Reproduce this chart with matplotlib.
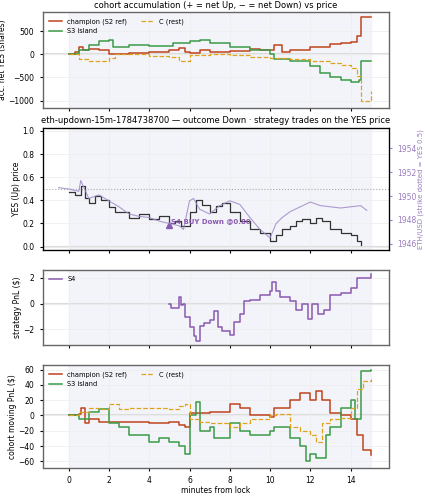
import matplotlib
matplotlib.use('Agg')
import matplotlib.pyplot as plt
import numpy as np

champColor = '#c0441e'
s3Color = '#3a9a48'
cColor = '#e0a21a'
s4Color = '#8a5ab0'

# panel 1: cohort accumulation (shares)
accChampT = [0, 0.3, 0.5, 0.7, 1.0, 1.5, 2.0, 2.3, 3, 4, 5, 5.5, 5.8, 6, 6.5, 7, 8, 9, 9.5, 10, 10.2, 10.6, 11, 12, 13, 13.5, 14, 14.3, 14.5, 15]
accChampV = [0, 50, 150, 100, 120, 80, 0, 5, 20, 50, 80, 130, 50, 30, 80, 50, 60, 120, 80, 100, 200, 50, 100, 150, 220, 250, 260, 400, 800, 800]
accS3T = [0, 0.5, 1, 1.5, 2, 2.2, 3, 4, 5, 5.2, 6, 6.5, 7, 8, 9, 10, 10.2, 11, 12, 12.5, 13, 13.5, 14, 14.4, 14.5, 15]
accS3V = [0, 100, 200, 280, 300, 150, 200, 180, 180, 250, 280, 300, 250, 150, 100, 0, -100, -150, -250, -400, -500, -550, -600, -550, -150, -150]
accCT = [0, 0.5, 1, 2, 2.3, 3, 4, 5, 5.5, 6, 7, 8, 9, 10, 11, 12, 13, 13.5, 14, 14.3, 14.5, 15]
accCV = [0, -100, -150, -80, 0, 0, -30, -60, -150, -20, 0, -20, -50, -80, -100, -150, -200, -230, -300, -480, -1000, -800]

# panel 2: YES price and ETH
yesT = [0, 0.3, 0.6, 0.8, 1, 1.3, 1.6, 2, 2.3, 3, 3.5, 4, 4.5, 5, 5.3, 5.6, 6, 6.3, 6.6, 7, 7.3, 7.6, 8, 8.5, 9, 9.5, 10, 10.3, 10.6, 11, 11.3, 11.6, 12, 12.3, 12.6, 13, 13.5, 14, 14.3, 14.5]
yesV = [0.47, 0.45, 0.52, 0.42, 0.38, 0.44, 0.40, 0.34, 0.30, 0.25, 0.28, 0.24, 0.26, 0.20, 0.22, 0.18, 0.30, 0.40, 0.36, 0.30, 0.35, 0.38, 0.30, 0.22, 0.15, 0.12, 0.05, 0.10, 0.15, 0.18, 0.22, 0.24, 0.20, 0.25, 0.22, 0.15, 0.12, 0.10, 0.05, 0.01]
ethT = [-0.5, 0, 0.5, 0.6, 1, 1.5, 2, 2.5, 3, 3.5, 4, 4.5, 5, 5.5, 5.7, 6, 6.2, 6.5, 7, 7.5, 8, 8.5, 9, 9.5, 10, 10.3, 10.6, 11, 11.5, 12, 12.5, 13, 13.5, 14, 14.5, 14.8]
ethV = [1950.7, 1950.6, 1950.4, 1951.3, 1949.8, 1950.1, 1949.6, 1949.1, 1948.5, 1948.3, 1948.2, 1947.9, 1947.7, 1947.5, 1947.2, 1949.6, 1949.8, 1948.9, 1948.5, 1949.2, 1949.6, 1949.3, 1948.2, 1947.2, 1946.5, 1947.7, 1948.2, 1948.7, 1949.1, 1949.5, 1949.2, 1949.1, 1949.0, 1949.1, 1949.2, 1948.8]
tradeT = 5.0
tradePrice = 0.19
tradeLabel = 'S4 BUY Down @0.80'

# panel 3: S4 PnL
s4T = [5, 5.1, 5.5, 5.6, 5.7, 5.8, 6, 6.2, 6.3, 6.5, 6.7, 7, 7.2, 7.4, 7.6, 8, 8.2, 8.5, 8.7, 9, 9.5, 10, 10.1, 10.3, 10.5, 11, 11.3, 11.6, 11.9, 12.1, 12.4, 12.7, 13, 13.5, 14, 14.3, 15]
s4V = [0, -0.3, 0.5, -0.1, 0, -1, -1.8, -2.5, -2.9, -1.7, -1.5, -1.3, -0.6, -1.8, -2.1, -2.4, -1.4, -0.8, 0.2, 0.3, 0.7, 1.0, 1.7, 1.0, 0.5, 0.2, -0.5, 0, -1.2, 0, -0.8, -0.5, 0.7, 0.8, 1.2, 2.0, 2.3]

# panel 4: cohort moving PnL
pnlChampT = [0, 0.5, 0.6, 0.8, 1, 1.5, 2, 3, 4, 5, 5.5, 5.8, 6, 7, 8, 8.5, 9, 10, 10.2, 11, 11.5, 12, 12.3, 12.6, 13, 13.5, 14, 14.3, 14.6, 15]
pnlChampV = [0, 2, 10, -10, -5, -8, -8, -9, -10, -8, -12, -15, 3, 4, 15, 10, 0, -2, 10, 20, 30, 20, 32, 20, 3, 0, -5, -25, -45, -52]
pnlS3T = [0, 0.5, 1, 1.5, 2, 2.5, 3, 4, 4.5, 5, 5.5, 5.8, 6, 6.3, 6.5, 7, 7.2, 8, 8.5, 9, 10, 10.2, 11, 11.5, 11.8, 12, 12.3, 12.8, 13, 13.5, 14, 14.2, 14.5, 15]
pnlS3V = [0, -5, 5, 8, -10, -15, -25, -35, -30, -35, -40, -50, 0, 18, -20, -15, -30, -10, -20, -25, -20, -15, -30, -40, -60, -50, -55, -25, -15, 10, 20, -5, 58, 60]
pnlCT = [0, 0.5, 1, 1.5, 2, 2.5, 3, 4, 5, 5.5, 5.8, 6, 6.5, 7, 8, 8.5, 9, 10, 10.3, 11, 11.5, 12, 12.3, 12.6, 13, 13.5, 14, 14.3, 14.6, 15]
pnlCV = [0, 5, 10, 8, 15, 8, 10, 10, 8, 12, 15, -5, -8, -10, -15, -10, -5, 0, 2, -15, -20, -25, -35, -10, -5, -3, 10, 35, 45, 48]

plt.rcParams['font.size'] = 5.5
plt.rcParams['xtick.major.size'] = 2.5
plt.rcParams['ytick.major.size'] = 2.5


def styleAxis(ax, showX=False):
    ax.axvspan(0, 15, color='#f3f4fa', zorder=0)
    ax.axhline(0, color='#dddddd', lw=1.5, zorder=0.5)
    ax.set_xlim(-1.3, 15.9)
    ax.set_xticks(range(0, 16, 2))
    ax.grid(True, color='#eeeeee', lw=0.6)
    for s in ax.spines.values():
        s.set_color('#666666')
        s.set_linewidth(1.0)
    if not showX:
        ax.tick_params(labelbottom=False)


fig = plt.figure(figsize=(4.25, 5), dpi=100)
L, W = 0.10, 0.815

ax1 = fig.add_axes([L, 0.785, W, 0.19])
styleAxis(ax1)
ax1.step(accChampT, accChampV, where='post', color=champColor, lw=1.1, label='champion (S2 ref)')
ax1.step(accS3T, accS3V, where='post', color=s3Color, lw=1.1, label='S3 island')
ax1.step(accCT, accCV, where='post', color=cColor, lw=0.9, ls='--', label='C (rest)')
ax1.set_ylim(-1150, 900)
ax1.set_yticks([-1000, -500, 0, 500])
ax1.set_ylabel('acc. net YES (shares)', labelpad=1)
ax1.set_title('cohort accumulation (+ = net Up, − = net Down) vs price', fontsize=6, pad=3)
ax1.legend(loc='upper left', ncol=2, fontsize=4.8, frameon=False)

ax2 = fig.add_axes([L, 0.50, W, 0.245])
styleAxis(ax2)
ax2.axhline(0.5, color='#aaaaaa', lw=0.8, ls=':')
ax2.step(yesT, yesV, where='post', color='#333333', lw=0.9)
ax2.plot(tradeT, tradePrice, marker='^', color=s4Color, ms=5, ls='none')
ax2.text(tradeT + 0.1, tradePrice + 0.01, tradeLabel, color=s4Color, fontsize=5, fontweight='bold')
ax2.set_ylim(-0.03, 1.03)
ax2.set_yticks(np.arange(0, 1.01, 0.2))
ax2.set_ylabel('YES (Up) price', labelpad=1)
ax2.set_title('eth-updown-15m-1784738700 — outcome Down · strategy trades on the YES price', fontsize=6, pad=3)
axEth = ax2.twinx()
axEth.plot(ethT, ethV, color='#a08ac8', lw=0.8, alpha=0.85)
axEth.set_ylim(1945.48, 1955.75)
axEth.set_yticks([1946, 1948, 1950, 1952, 1954])
axEth.tick_params(colors='#9a7cc0')
axEth.set_ylabel('ETH/USD (strike dotted = YES 0.5)', color='#9a7cc0', fontsize=5, labelpad=1)

ax3 = fig.add_axes([L, 0.31, W, 0.15])
styleAxis(ax3)
ax3.step(s4T, s4V, where='post', color=s4Color, lw=1.1, label='S4')
ax3.set_ylim(-3.2, 2.6)
ax3.set_yticks([-2, 0, 2])
ax3.set_ylabel('strategy PnL ($)', labelpad=1)
ax3.legend(loc='upper left', fontsize=4.8, frameon=False)

ax4 = fig.add_axes([L, 0.065, W, 0.205])
styleAxis(ax4, showX=True)
ax4.step(pnlChampT, pnlChampV, where='post', color=champColor, lw=1.1, label='champion (S2 ref)')
ax4.step(pnlS3T, pnlS3V, where='post', color=s3Color, lw=1.1, label='S3 island')
ax4.step(pnlCT, pnlCV, where='post', color=cColor, lw=0.9, ls='--', label='C (rest)')
ax4.set_ylim(-68, 66)
ax4.set_yticks(range(-60, 61, 20))
ax4.set_ylabel('cohort moving PnL ($)', labelpad=1)
ax4.set_xlabel('minutes from lock', labelpad=1)
ax4.legend(loc='upper left', ncol=2, fontsize=4.8, frameon=False)

fig.savefig('out.png', dpi=100)
